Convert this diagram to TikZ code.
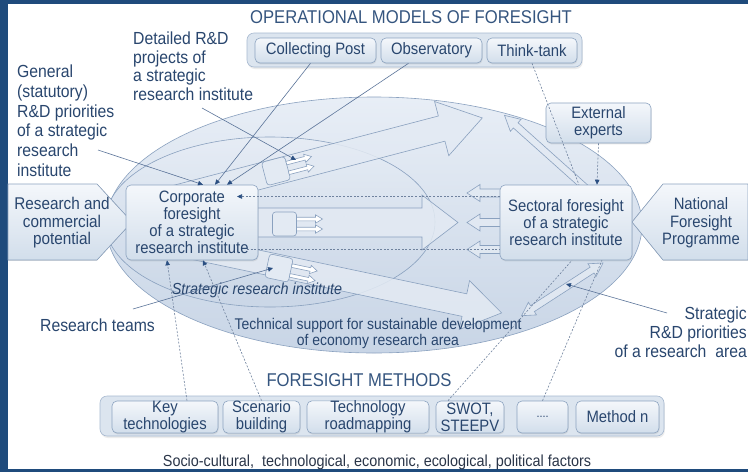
\documentclass[tikz,border=0pt]{standalone}
\usepackage{fontspec}
\setmainfont{Liberation Sans}[FakeStretch=0.9]
\usetikzlibrary{arrows.meta,shadows}

\definecolor{frame}{HTML}{1F4B7C}
\definecolor{ink}{HTML}{29466E}
\definecolor{titleink}{HTML}{35557F}
\definecolor{factink}{HTML}{2A3548}
\definecolor{boxline}{HTML}{8CA3C0}
\definecolor{boxtop}{HTML}{F4F7FB}
\definecolor{boxbot}{HTML}{D2DEEB}
\definecolor{grpfill}{HTML}{DCE5EF}
\definecolor{grpline}{HTML}{A7B9D0}
\definecolor{ovaltop}{HTML}{E8EEF6}
\definecolor{ovalbot}{HTML}{C8D5E6}
\definecolor{ovalline}{HTML}{8AA1BF}
\definecolor{arrfill}{HTML}{E3EAF3}
\definecolor{linkc}{HTML}{5B7499}
\definecolor{tipc}{HTML}{2B4F82}
\definecolor{dashc}{HTML}{6F829E}

\newcommand{\setfs}[2]{\fontsize{#1}{#2}\selectfont}

% block arrow: [style]{tail}{angle}{length}{half shaft}{half head}{head length}
\newcommand{\fatarrow}[7][]{%
  \filldraw[bigarrow,#1,shift={(#2)},rotate=#3]
    (0,#5) -- ({#4-#7},#5) -- ({#4-#7},#6) -- (#4,0)
    -- ({#4-#7},-#6) -- ({#4-#7},-#5) -- (0,-#5) -- cycle;}
% same, with a head at both ends
\newcommand{\fatdarrow}[7][]{%
  \filldraw[bigarrow,#1,shift={(#2)},rotate=#3]
    (0,0) -- (#7,#6) -- (#7,#5) -- ({#4-#7},#5) -- ({#4-#7},#6) -- (#4,0)
    -- ({#4-#7},-#6) -- ({#4-#7},-#5) -- (#7,-#5) -- (#7,-#6) -- cycle;}

\tikzset{
  box/.style={draw=boxline, line width=0.6pt, rounded corners=5pt,
    top color=boxtop, bottom color=boxbot, text=ink, align=center,
    inner sep=0pt, font=\setfs{16.5}{17},
    drop shadow={opacity=0.18, shadow xshift=0.6pt, shadow yshift=-1.4pt}},
  grp/.style={draw=grpline, line width=0.6pt, rounded corners=7pt, fill=grpfill,
    drop shadow={opacity=0.15, shadow xshift=0.8pt, shadow yshift=-2pt}},
  lbl/.style={text=ink, inner sep=0pt, font=\setfs{17.5}{19.5}},
  heading/.style={text=titleink, inner sep=0pt, font=\setfs{18.5}{20}},
  potshape/.style={draw=boxline, line width=0.6pt, top color=boxtop, bottom color=boxbot},
  oval/.style={draw=ovalline, line width=0.6pt, top color=ovaltop, bottom color=ovalbot},
  bigarrow/.style={draw=ovalline, line width=0.6pt, fill=arrfill, fill opacity=0.85},
  iconbox/.style={draw=ovalline, line width=0.6pt, fill=arrfill, rounded corners=3pt},
  link/.style={draw=linkc, line width=0.6pt},
  dashlink/.style={draw=dashc, line width=0.6pt, dash pattern=on 2pt off 1.6pt},
  tipend/.style={-{Triangle[length=5pt,width=4.5pt,color=tipc]}},
  teams/.pic={
    \filldraw[iconbox] (-12,-12) rectangle (12,12);
    \fatarrow[fill=white,fill opacity=1]{12,-5}{0}{26}{1.8}{4.2}{7}
    \fatarrow[fill=white,fill opacity=1]{12,5}{0}{26}{1.8}{4.2}{7}
  }
}

\begin{document}
\begin{tikzpicture}[x=1pt,y=-1pt]
% frame
\fill[frame] (0,0) rectangle (748,472);
\fill[white] (8,4) rectangle (748,469);
\useasboundingbox (0,0) rectangle (748,472);

% the two ovals
\path[oval] (374,225) ellipse [x radius=268pt, y radius=128pt];
\path[oval, fill opacity=0.6] (270,222) ellipse [x radius=165pt, y radius=85pt];

% big arrows
\fatarrow{165,201}{14.67}{328}{13}{28}{42}
\fatarrow{165,222.5}{0}{293}{14.5}{27.5}{36}
\fatarrow{165,242}{-11.9}{344}{11.5}{25}{38}
\fatarrow{505,193}{180}{38}{4}{8.5}{13}
\fatarrow{505,222.5}{180}{38}{4}{8.5}{13}
\fatarrow{505,249.5}{180}{38}{4}{8.5}{13}
\fatarrow{588,190}{138.2}{112}{3.5}{8}{15}
\fatdarrow{603,263}{212.9}{97}{3.5}{7.5}{13}

% research teams
\pic[rotate=14.67] at (276,171) {teams};
\pic at (284.5,224) {teams};
\pic[rotate=-11.9] at (279,268) {teams};

% side inputs
\filldraw[potshape] (8,184) -- (97,184) -- (132,222) -- (97,260) -- (8,260) -- cycle;
\filldraw[potshape] (748,184) -- (663,184) -- (632,222) -- (663,260) -- (748,260) -- cycle;
\node[lbl, align=center, font=\setfs{17}{17.5}] (potlbl) at (62,223) {Research and\\commercial\\potential};
\node[lbl, align=center, font=\setfs{16.5}{17.5}] (natlbl) at (701,223) {National\\Foresight\\Programme};

% operational models
\node[heading] (optitle) at (411,17) {OPERATIONAL MODELS OF FORESIGHT};
\node[grp, minimum width=335pt, minimum height=34pt] (opgrp) at (414.5,50) {};
\node[box, minimum width=121pt, minimum height=25pt] (cpost) at (315.5,50.5) {Collecting Post};
\node[box, minimum width=101pt, minimum height=25pt] (obs) at (431.5,50.5) {Observatory};
\node[box, minimum width=90pt, minimum height=25pt] (think) at (532,50.5) {Think-tank};

% foresight boxes
\node[box, minimum width=132pt, minimum height=75pt] (corp) at (192,222.5) {Corporate\\foresight\\of a strategic\\research institute};
\node[box, minimum width=132pt, minimum height=75pt] (sect) at (566,222.5) {Sectoral foresight\\of a strategic\\research institute};
\node[box, minimum width=105pt, minimum height=40pt] (ext) at (598.5,123) {External\\experts};

% labels
\node[lbl, anchor=north west, align=left, font=\setfs{17.5}{18.5}] (detlbl) at (133,32) {Detailed R\&D\\projects of\\a strategic\\research institute};
\node[lbl, anchor=north west, align=left, font=\setfs{17.5}{19.7}] (genlbl) at (17,65) {General\\(statutory)\\R\&D priorities\\of a strategic\\research\\institute};
\node[lbl, anchor=west] (teamlbl) at (40,325) {Research teams};
\node[lbl, anchor=north east, align=right, font=\setfs{17.5}{18.7}] (arealbl) at (747,307) {Strategic\\R\&D priorities\\of a research\ \ area};
\node[text=ink, inner sep=0pt, font=\setfs{16}{17}\itshape] (srilbl) at (257,290) {Strategic research institute};
\node[text=ink, inner sep=0pt, align=center, font=\setfs{15.5}{16}] (techlbl) at (378,333) {Technical support for sustainable development\\of economy research area};

% foresight methods
\node[heading] (mtitle) at (359,380) {FORESIGHT METHODS};
\node[grp, minimum width=564pt, minimum height=40pt] (mgrp) at (382,416) {};
\node[box, minimum width=106pt, minimum height=32pt] (key) at (165,417) {Key\\technologies};
\node[box, minimum width=77pt, minimum height=32pt] (scen) at (261.5,417) {Scenario\\building};
\node[box, minimum width=122pt, minimum height=32pt] (tech) at (368,417) {Technology\\roadmapping};
\node[box, minimum width=68pt, minimum height=32pt] (swot) at (470,417) {SWOT,\\STEEPV};
\node[box, minimum width=51pt, minimum height=32pt, font=\setfs{12}{13}] (dots) at (542.5,417) {....};
\node[box, minimum width=83pt, minimum height=32pt] (methn) at (617.5,417) {Method n};
\node[text=factink, inner sep=0pt, font=\setfs{16}{17}] (factors) at (377,462) {Socio-cultural,\ \ technological, economic, ecological, political factors};

% connector ends
\coordinate (genend) at (98,150);
\coordinate (detend) at (202,108);
\coordinate (uicon) at (296,160);
\coordinate (licon) at (273,268);
\coordinate (teamend) at (133,309);
\coordinate (corptip) at (237,196.5);
\coordinate (corpdash) at (247,249.5);
\coordinate (areaend) at (667,313);
\coordinate (areatip) at (566,284);

% connectors
\draw[link, tipend] (genend) -- ([xshift=11pt]corp.north);
\draw[link, tipend] (detend) -- (uicon);
\draw[link, tipend] ([xshift=-5pt]cpost.south) -- ([xshift=23pt]corp.north);
\draw[link, tipend] ([xshift=-23pt]obs.south) -- ([xshift=35pt]corp.north);
\draw[link, tipend] (teamend) -- (licon);
\draw[link, tipend] (areaend) -- (areatip);
\draw[dashlink, tipend] ([yshift=26pt]sect.west) -- (corptip);
\draw[dashlink] (corpdash) -- ([yshift=-27pt]sect.west);
\draw[dashlink] (think.south) -- ([xshift=13pt]sect.north);
\draw[dashlink, tipend] (ext.south) -- ([xshift=-1.5pt]ext.south |- sect.north);
\draw[dashlink, tipend] ([xshift=22pt]key.north) -- ([xshift=-25pt]corp.south);
\draw[dashlink, tipend] (scen.north) -- ([xshift=11pt]corp.south);
\draw[dashlink] ([xshift=-22pt]swot.north) -- ([xshift=6pt]sect.south);
\draw[dashlink] (dots.north) -- ([xshift=36pt]sect.south);
\end{tikzpicture}
\end{document}
